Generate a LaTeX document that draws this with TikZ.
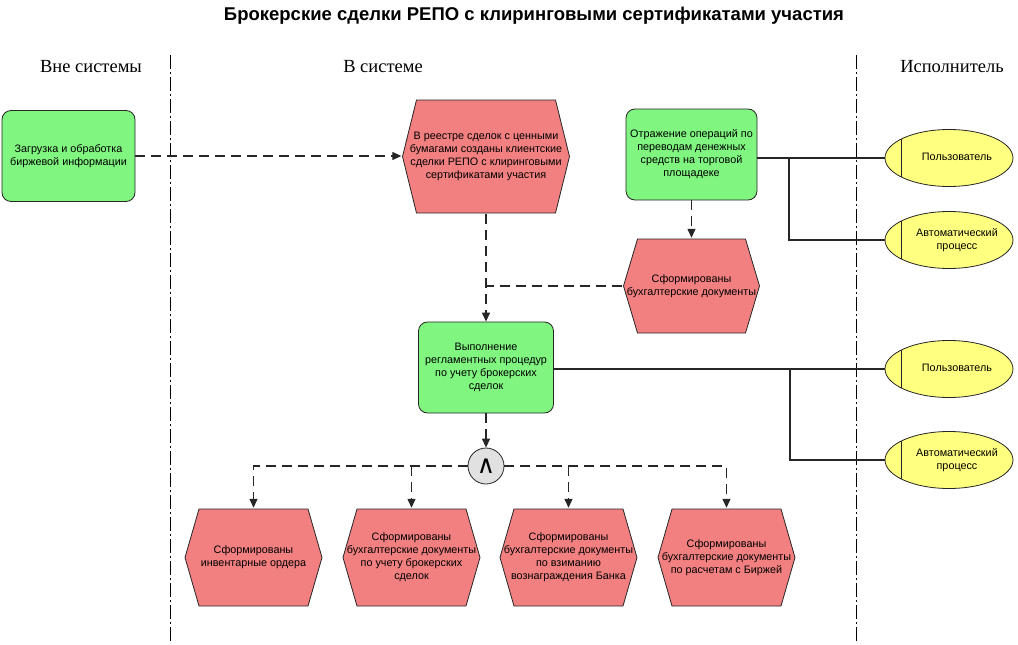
\documentclass[tikz,border=0pt]{standalone}
\usepackage{fontspec}
\setmainfont{Liberation Sans}
\newfontfamily\lanefont{Liberation Serif}
\newfontfamily\symfont{DejaVu Sans}
\usetikzlibrary{arrows.meta}
\usetikzlibrary{shapes.geometric}

\definecolor{fgreen}{RGB}{128,245,128}
\definecolor{ered}{RGB}{242,128,128}
\definecolor{ayellow}{RGB}{255,255,128}
\definecolor{opgray}{RGB}{225,225,225}

\newcommand{\acttext}[1]{\makebox[0pt]{\hspace*{16pt}\begin{tabular}{@{}c@{}}#1\end{tabular}}}

\begin{document}
\begin{tikzpicture}[x=1pt,y=-1pt,
	txt/.style={font=\fontsize{10.8}{13}\selectfont, align=center},
	func/.style={txt, draw=black!85, line width=0.8pt, fill=fgreen, rounded corners=9pt, minimum width=133pt, minimum height=91pt},
	evt/.style={txt, inner sep=0pt, path picture={
		\path[fill=ered, draw=black!85, line width=0.8pt]
			([xshift=1pt]path picture bounding box.west)
			-- ([xshift=15pt,yshift=-1pt]path picture bounding box.north west)
			-- ([xshift=-15pt,yshift=-1pt]path picture bounding box.north east)
			-- ([xshift=-1pt]path picture bounding box.east)
			-- ([xshift=-15pt,yshift=1pt]path picture bounding box.south east)
			-- ([xshift=15pt,yshift=1pt]path picture bounding box.south west)
			-- cycle;}},
	actor/.style={font=\fontsize{10.8}{13}\selectfont, ellipse, inner sep=0pt, draw=black!85, line width=0.8pt, fill=ayellow, minimum width=128pt, minimum height=57pt, path picture={
		\draw[black!85, line width=0.8pt] ([xshift=16pt]path picture bounding box.north west) -- ([xshift=16pt]path picture bounding box.south west);}},
	flow/.style={line width=1.3pt, black!85, dash pattern=on 10pt off 6pt},
	link/.style={line width=1.1pt, black!85},
	lane/.style={line width=0.7pt, dash pattern=on 14pt off 3pt on 2pt off 3pt},
	>={Triangle[length=9pt,width=8pt]}]
	\useasboundingbox (0,0) rectangle (1018,645);

	\node[font=\fontsize{18.5}{20}\selectfont\bfseries] (title) at (534,16) {Брокерские сделки РЕПО с клиринговыми сертификатами участия};
	\node[font=\lanefont\fontsize{18.5}{19}\selectfont] (outside) at (91,67) {Вне системы};
	\node[font=\lanefont\fontsize{18.5}{19}\selectfont] (inside) at (383,67) {В системе};
	\node[font=\lanefont\fontsize{18.5}{19}\selectfont] (performer) at (952,67) {Исполнитель};
	\draw[lane] (170,55) -- (170,643);
	\draw[lane] (856,55) -- (856,643);

	\node[func] (load) at (68.5,156) {Загрузка и обработка\\биржевой информации};
	\node[evt, minimum width=169pt, minimum height=115pt] (reg) at (486,156.5) {В реестре сделок с ценными\\бумагами созданы клиентские\\сделки РЕПО с клиринговыми\\сертификатами участия};
	\node[func, minimum width=131pt] (refl) at (691.5,154.5) {Отражение операций по\\переводам денежных\\средств на торговой\\площадеке};
	\node[evt, minimum width=138pt, minimum height=96pt] (docs) at (691.5,286) {Сформированы\\бухгалтерские документы};
	\node[func, minimum width=135pt] (proc) at (486,367.5) {Выполнение\\регламентных процедур\\по учету брокерских\\сделок};
	\node[circle, draw=black!85, line width=0.8pt, fill=opgray, minimum size=36pt, inner sep=0pt, font=\symfont\fontsize{25}{25}\selectfont] (and) at (486,466) {∧};

	\node[evt, minimum width=139pt, minimum height=99pt] (orders) at (253.5,557.5) {Сформированы\\инвентарные ордера};
	\node[evt, minimum width=139pt, minimum height=99pt] (brdocs) at (411.5,557.5) {Сформированы\\бухгалтерские документы\\по учету брокерских\\сделок};
	\node[evt, minimum width=139pt, minimum height=99pt] (feedocs) at (568.5,557.5) {Сформированы\\бухгалтерские документы\\по взиманию\\вознаграждения Банка};
	\node[evt, minimum width=139pt, minimum height=99pt] (exdocs) at (726.5,557.5) {Сформированы\\бухгалтерские документы\\по расчетам с Биржей};

	\node[actor] (user1) at (949,158) {\acttext{Пользователь}};
	\node[actor] (auto1) at (949,240) {\acttext{Автоматический\\процесс}};
	\node[actor] (user2) at (949,369) {\acttext{Пользователь}};
	\node[actor] (auto2) at (949,460) {\acttext{Автоматический\\процесс}};

	\draw[flow,->] (load.east) -- (load.east -| reg.west);
	\draw[flow,->] (reg) -- (proc);
	\draw[flow] (docs.west) -- (docs.west -| reg.south);
	\draw[flow,->] (refl) -- (docs);
	\draw[flow,->] (proc) -- (and);
	\draw[flow,->] (and.west) -| (orders.north);
	\draw[flow,->] (and.east) -| (exdocs.north);
	\draw[flow,->] (and.west -| brdocs.north) -- (brdocs.north);
	\draw[flow,->] (and.east -| feedocs.north) -- (feedocs.north);

	\coordinate (br1) at (789,158);
	\coordinate (br2) at (790,369);
	\draw[link] (user1.west -| refl.east) -- (user1.west);
	\draw[link] (auto1.west) -| (br1);
	\draw[link] (user2.west -| proc.east) -- (user2.west);
	\draw[link] (auto2.west) -| (br2);
\end{tikzpicture}
\end{document}
